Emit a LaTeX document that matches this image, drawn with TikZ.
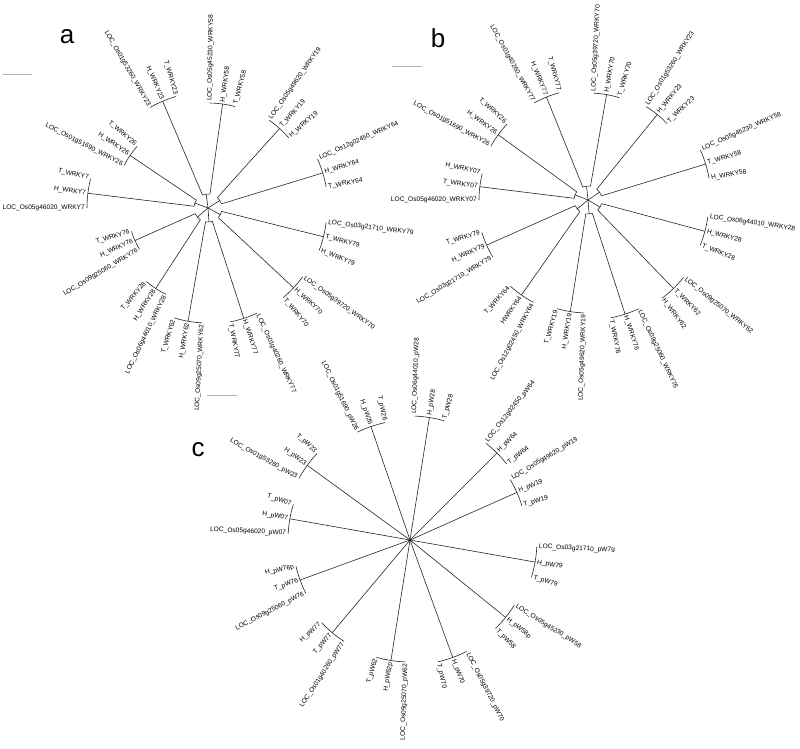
\documentclass[tikz,border=0pt]{standalone}
\usepackage{fontspec}
\setmainfont{Liberation Sans}
\usetikzlibrary{calc}

\tikzset{%
  leaf/.style={font=\fontsize{6.6}{8}\selectfont, inner sep=1pt},
  branch/.style={line width=0.6pt, color=black!85},
  panel/.style={font=\fontsize{26}{26}\selectfont},
  scalebar/.style={color=gray!60, line width=0.6pt},
}
\def\innerr{0}
% center, angle, radius, three leaves (larger angle first), name
\newcommand\clade[7]{%
  \pgfmathsetmacro\cosang{cos(#2)}%
  \draw[branch] ($(#1)+(#2:\innerr)$) -- ($(#1)+(#2:#3)$) coordinate (#7);
  \draw[branch] ($(#1)+(#2+7:#3)$) arc[start angle=#2+7, end angle=#2-7, radius=#3];
  \ifdim\cosang pt>0pt
    \node[leaf,anchor=west,rotate=#2+7] (#7-1) at ($(#1)+(#2+7:#3+1)$) {#4};
    \node[leaf,anchor=west,rotate=#2] (#7-2) at ($(#1)+(#2:#3+1)$) {#5};
    \node[leaf,anchor=west,rotate=#2-7] (#7-3) at ($(#1)+(#2-7:#3+1)$) {#6};
  \else
    \node[leaf,anchor=east,rotate=#2+187] (#7-1) at ($(#1)+(#2+7:#3+1)$) {#4};
    \node[leaf,anchor=east,rotate=#2+180] (#7-2) at ($(#1)+(#2:#3+1)$) {#5};
    \node[leaf,anchor=east,rotate=#2+173] (#7-3) at ($(#1)+(#2-7:#3+1)$) {#6};
  \fi}
% inner joins of two clades
\newcommand\join[3]{%
  \draw[branch] ($(#1)+(#2:\innerr)$) arc[start angle=#2, end angle=#3, radius=\innerr];
  \draw[branch] (#1) -- ($(#1)+({(#2+#3)/2}:\innerr)$);}

\begin{document}
\begin{tikzpicture}[x=1pt,y=1pt]
  \useasboundingbox (0,0) rectangle (800,748);

  % tree a
  \coordinate (ca) at (208,540);
  \def\innerr{14}
  \clade{ca}{113}{116}{LOC\_Os01g53260\_WRKY23}{H\_WRKY23}{T\_WRKY23}{a23}
  \clade{ca}{82}{105}{LOC\_Os05g45230\_WRKY58}{H\_WRKY58}{T\_WRKY58}{a58}
  \clade{ca}{48}{107}{LOC\_Os05g49620\_WRKY19}{T\_WRKY19}{H\_WRKY19}{a19}
  \clade{ca}{17}{120}{LOC\_Os12g02450\_WRKY64}{H\_WRKY64}{T\_WRKY64}{a64}
  \clade{ca}{-14}{119}{LOC\_Os03g21710\_WRKY79}{T\_WRKY79}{H\_WRKY79}{a79}
  \clade{ca}{-43}{117}{LOC\_Os05g39720\_WRKY70}{H\_WRKY70}{T\_WRKY70}{a70}
  \clade{ca}{-72}{116}{LOC\_Os01g40260\_WRKY77}{H\_WRKY77}{T\_WRKY77}{a77}
  \clade{ca}{-100}{115}{LOC\_Os09g25070\_WRKY62}{H\_WRKY62}{T\_WRKY62}{a62}
  \clade{ca}{-123}{96}{LOC\_Os06g44010\_WRKY28}{H\_WRKY28}{T\_WRKY28}{a28}
  \clade{ca}{-156}{80}{LOC\_Os09g25060\_WRKY76}{H\_WRKY76}{T\_WRKY76}{a76}
  \clade{ca}{173}{121}{LOC\_Os05g46020\_WRKY7}{H\_WRKY7}{T\_WRKY7}{a07}
  \clade{ca}{146}{94}{LOC\_Os01g51690\_WRKY26}{H\_WRKY26}{T\_WRKY26}{a26}
  \foreach \p/\q in {82/113, 17/48, -43/-14, -100/-72, -156/-123, 146/173}
    \join{ca}{\p}{\q};

  % tree b
  \coordinate (cb) at (588,548);
  \def\innerr{14}
  \clade{cb}{112}{111}{LOC\_Os01g40260\_WRKY77}{H\_WRKY77}{T\_WRKY77}{b77}
  \clade{cb}{80}{107}{LOC\_Os05g39720\_WRKY70}{H\_WRKY70}{T\_WRKY70}{b70}
  \clade{cb}{51}{110}{LOC\_Os01g53260\_WRKY23}{H\_WRKY23}{T\_WRKY23}{b23}
  \clade{cb}{17}{123}{LOC\_Os05g45230\_WRKY58}{T\_WRKY58}{H\_WRKY58}{b58}
  \clade{cb}{-15}{121}{LOC\_Os06g44010\_WRKY28}{H\_WRKY28}{T\_WRKY28}{b28}
  \clade{cb}{-46}{123}{LOC\_Os09g25070\_WRKY62}{T\_WRKY62}{H\_WRKY62}{b62}
  \clade{cb}{-72}{120}{LOC\_Os09g25060\_WRKY76}{H\_WRKY76}{T\_WRKY76}{b76}
  \clade{cb}{-99}{113}{LOC\_Os05g49620\_WRKY19}{H\_WRKY19}{T\_WRKY19}{b19}
  \clade{cb}{-125}{116}{LOC\_Os12g02450\_WRKY64}{HWRKY64}{T\_WRKY64}{b64}
  \clade{cb}{-156}{111}{LOC\_Os03g21710\_WRKY79}{H\_WRKY79}{T\_WRKY79}{b79}
  \clade{cb}{173}{109}{LOC\_Os05g46020\_WRKY07}{T\_WRKY07}{H\_WRKY07}{b07}
  \clade{cb}{144}{111}{LOC\_Os01g51690\_WRKY26}{H\_WRKY26}{T\_WRKY26}{b26}
  \foreach \p/\q in {80/112, 17/51, -46/-15, -99/-72, -156/-125, 144/173}
    \join{cb}{\p}{\q};

  % tree c
  \coordinate (cc) at (410,208);
  \def\innerr{0}
  \clade{cc}{109}{120}{LOC\_Os01g51690\_pW26}{H\_pW26}{T\_pW26}{c26}
  \clade{cc}{81}{124}{LOC\_Os06g44010\_pW28}{H\_pW28}{T\_pW28}{c28}
  \clade{cc}{45}{123}{LOC\_Os12g02450\_pW64}{H\_pW64}{T\_pW64}{c64}
  \clade{cc}{24}{117}{LOC\_Os05g49620\_pW19}{H\_pW19}{T\_pW19}{c19}
  \clade{cc}{-10}{127}{LOC\_Os03g21710\_pW79}{H\_pW79}{T\_pW79}{c79}
  \clade{cc}{-39}{123}{LOC\_Os05g45230\_pW58}{H\_pW58p}{T\_pW58}{c58}
  \clade{cc}{-70}{125}{LOC\_Os05g39720\_pW70}{H\_pW70}{T\_pW70}{c70}
  \clade{cc}{-99}{122}{LOC\_Os09g25070\_pW62}{H\_pW62p}{T\_pW62}{c62}
  \clade{cc}{-130}{121}{LOC\_Os01g40260\_pW77}{T\_pW77}{H\_pW77}{c77}
  \clade{cc}{-160}{117}{LOC\_Os09g25060\_pW76}{T\_pW76}{H\_pW76p}{c76}
  \clade{cc}{170}{122}{LOC\_Os05g46020\_pW07}{H\_pW07}{T\_pW07}{c07}
  \clade{cc}{144}{127}{LOC\_Os01g53260\_pW23}{H\_pW23}{T\_pW23}{c23}

  \node[panel] (la) at (67,711) {a};
  \node[panel] (lb) at (438,710) {b};
  \node[panel] (lc) at (198,298) {c};

  \draw[scalebar] (3,674) -- (32,674);
  \draw[scalebar] (392,682) -- (422,682);
  \draw[scalebar] (207,353) -- (237,353);
\end{tikzpicture}
\end{document}
